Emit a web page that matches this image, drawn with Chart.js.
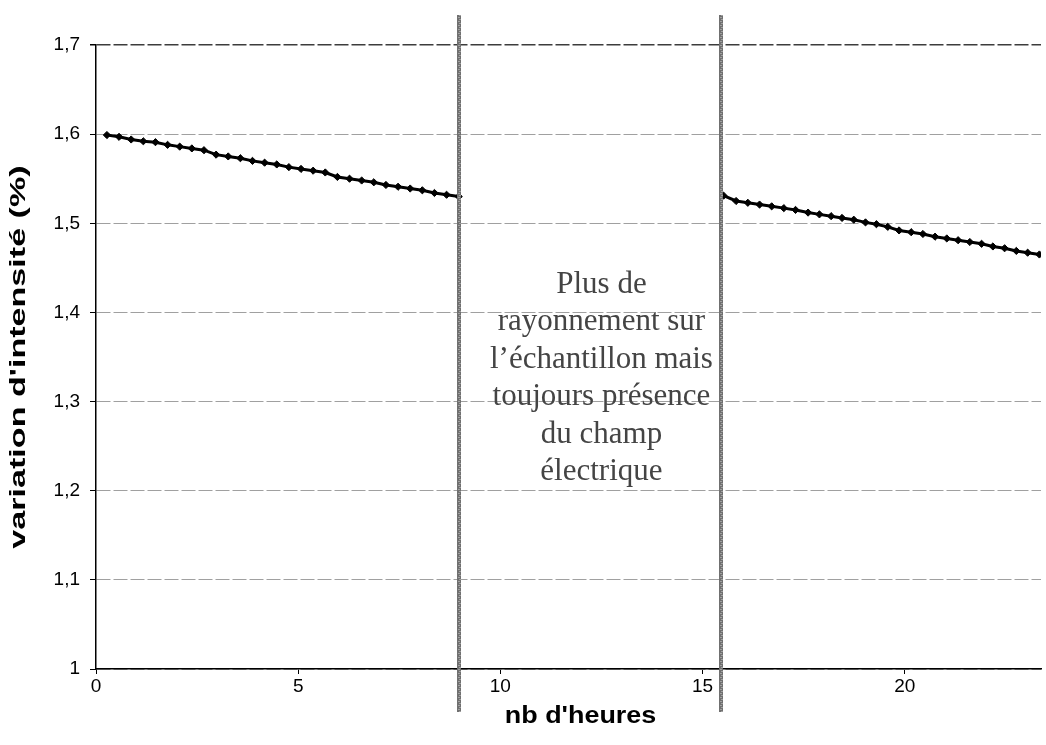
<!DOCTYPE html>
<html><head><meta charset="utf-8">
<script src="https://cdn.jsdelivr.net/npm/chart.js@4/dist/chart.umd.min.js"></script>
<style>html,body{margin:0;padding:0;background:#fff}#wrap{width:1046px;height:745px;position:relative}</style>
</head><body><div id="wrap"><canvas id="c" width="1046" height="745"></canvas></div>
<script>
// Before the interruption (nb d'heures / variation d'intensité %)
const hoursA = [0.27,0.57,0.87,1.17,1.47,1.77,2.07,2.37,2.67,2.97,3.27,3.57,3.87,4.17,4.47,4.77,5.07,5.37,5.67,5.97,6.27,6.57,6.87,7.17,7.47,7.77,8.07,8.37,8.67,8.97];
const intensityA = [1.599,1.597,1.594,1.592,1.591,1.588,1.586,1.584,1.582,1.577,1.575,1.573,1.570,1.568,1.566,1.563,1.561,1.559,1.557,1.552,1.550,1.548,1.546,1.543,1.541,1.539,1.537,1.534,1.532,1.530];
// After the interruption
const hoursB = [15.52,15.83,16.12,16.41,16.71,17.01,17.30,17.61,17.89,18.18,18.45,18.74,19.03,19.30,19.58,19.86,20.16,20.45,20.75,21.04,21.32,21.61,21.90,22.18,22.47,22.76,23.04,23.33];
const intensityB = [1.531,1.525,1.523,1.521,1.519,1.517,1.515,1.512,1.510,1.508,1.506,1.504,1.501,1.499,1.496,1.492,1.490,1.488,1.485,1.483,1.481,1.479,1.477,1.474,1.472,1.469,1.467,1.465];
const xTickValues = [0,5,10,15,20];
const yTickValues = [1,1.1,1.2,1.3,1.4,1.5,1.6,1.7];
const breakHours = [8.97,15.45];
const noteHour = 12.5;
const noteTopValue = 1.431;
const noteLines = ["Plus de","rayonnement sur","l\u2019échantillon mais","toujours présence","du champ","électrique"];
const xTitle = "nb d'heures";
const yTitle = "variation d'intensité (%)";

const toXY = (xs, ys) => xs.map((x, i) => ({x: x, y: ys[i]}));

const overlayPlugin = {
  id: 'overlay',
  afterDatasetsDraw(chart) {
    const {ctx, chartArea, scales} = chart;
    const xs = scales.x, ys = scales.y;
    ctx.save();
    // interruption markers
    breakHours.forEach(h => {
      const px = Math.round(xs.getPixelForValue(h));
      const top = chartArea.top - 30, bot = chartArea.bottom + 43;
      ctx.fillStyle = '#707070';
      ctx.fillRect(px - 2, top, 4, bot - top);
      ctx.fillStyle = '#d0d0d0';
      for (let y = top; y < bot; y += 2) {
        ctx.fillRect(px - 1 + ((y / 2) % 2), y, 1, 1);
      }
    });
    // note text
    const cx = xs.getPixelForValue(noteHour);
    const y0 = ys.getPixelForValue(noteTopValue);
    ctx.font = '31px "Liberation Serif", "Times New Roman", serif';
    ctx.fillStyle = '#444';
    ctx.textAlign = 'center';
    ctx.textBaseline = 'middle';
    noteLines.forEach((t, i) => ctx.fillText(t, cx, y0 + i * 37.5));
    ctx.restore();
  },
  afterDraw(chart) {
    const {ctx, chartArea} = chart;
    ctx.save();
    ctx.fillStyle = '#000';
    ctx.textAlign = 'center';
    ctx.textBaseline = 'middle';
    // y axis title (stretched along its length like the scanned original)
    ctx.font = 'bold 22px "Liberation Sans", Arial, sans-serif';
    ctx.translate(19, (chartArea.top + chartArea.bottom) / 2);
    ctx.rotate(-Math.PI / 2);
    ctx.scale(1.55, 1);
    ctx.fillText(yTitle, 0, 0);
    ctx.restore();
    ctx.save();
    ctx.fillStyle = '#000';
    ctx.textAlign = 'center';
    ctx.textBaseline = 'middle';
    ctx.font = 'bold 23px "Liberation Sans", Arial, sans-serif';
    ctx.translate((chartArea.left + chartArea.right) / 2 + 12, chartArea.bottom + 48);
    ctx.scale(1.17, 1);
    ctx.fillText(xTitle, 0, 0);
    ctx.restore();
  }
};

new Chart(document.getElementById('c'), {
  type: 'line',
  data: {
    datasets: [
      {data: toXY(hoursA, intensityA)},
      {data: toXY(hoursB, intensityB)}
    ]
  },
  options: {
    responsive: false,
    animation: false,
    devicePixelRatio: 1,
    layout: {padding: {top: 45, right: 0, left: 0, bottom: 0}},
    plugins: {legend: {display: false}, tooltip: {enabled: false}},
    elements: {
      line: {borderColor: '#000', borderWidth: 3, tension: 0},
      point: {pointStyle: 'rectRot', radius: 3.6, backgroundColor: '#000', borderColor: '#000', borderWidth: 1}
    },
    scales: {
      x: {
        type: 'linear', min: 0, max: 23.37,
        afterBuildTicks: s => { s.ticks = xTickValues.map(v => ({value: v})); },
        afterFit: s => { s.height = 76; },
        ticks: {font: {family: '"Liberation Sans", Arial, sans-serif', size: 19}, color: '#000', padding: 1, maxRotation: 0},
        grid: {display: true, drawOnChartArea: false, drawTicks: true, tickLength: 5, tickColor: '#000'},
        border: {display: true, color: '#000', width: 1.5},
        title: {display: false, text: xTitle}
      },
      y: {
        type: 'linear', min: 1, max: 1.7,
        afterBuildTicks: s => { s.ticks = yTickValues.map(v => ({value: v})); },
        afterFit: s => { s.width = 96; },
        ticks: {
          font: {family: '"Liberation Sans", Arial, sans-serif', size: 19}, color: '#000', padding: 10,
          callback: v => (Math.abs(v - 1) < 1e-9 ? '1' : v.toFixed(1).replace('.', ','))
        },
        grid: {
          color: c => (c.tick && Math.abs(c.tick.value - 1.7) < 1e-9) ? '#3c3c3c' : '#a0a0a0',
          lineWidth: c => (c.tick && Math.abs(c.tick.value - 1.7) < 1e-9) ? 1.5 : 1,
          tickLength: 6, tickColor: '#000', drawTicks: true
        },
        border: {display: true, color: '#000', width: 1.5, dash: [14, 3]},
        title: {display: false, text: yTitle}
      }
    }
  },
  plugins: [overlayPlugin]
});
</script>
</body></html>
